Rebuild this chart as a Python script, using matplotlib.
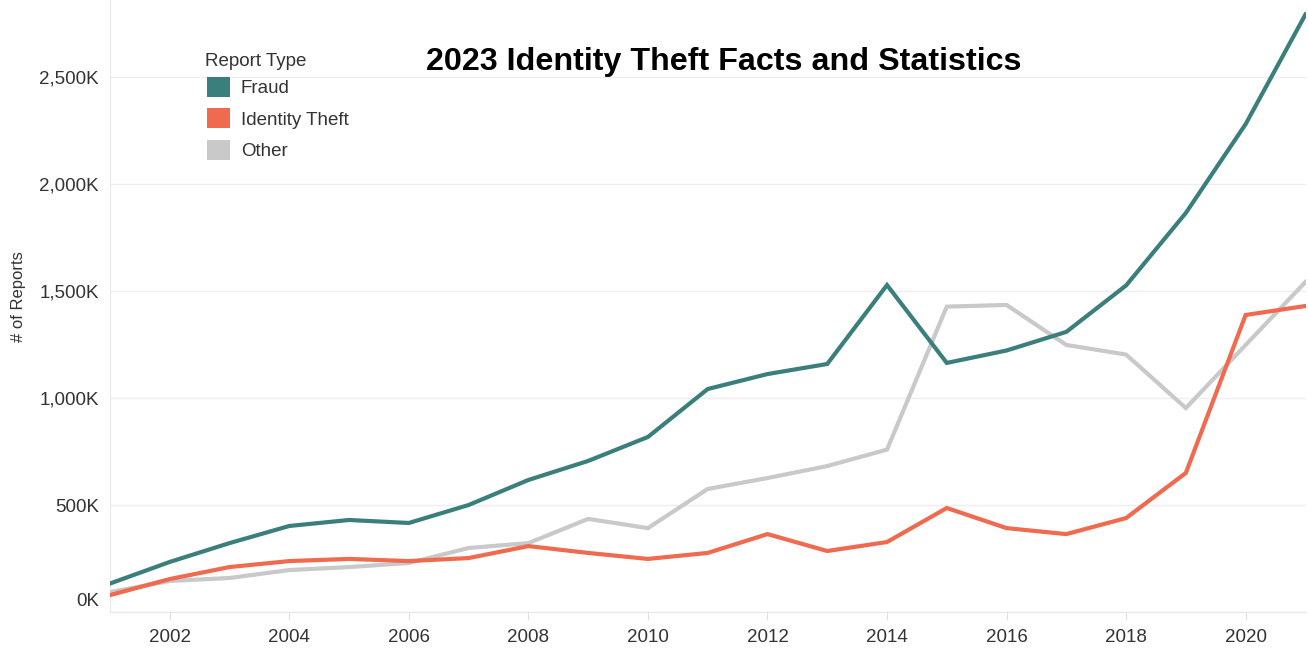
import matplotlib
matplotlib.use("Agg")
import matplotlib.pyplot as plt
import matplotlib.transforms as mtransforms
from matplotlib.patches import Patch
from matplotlib.ticker import FuncFormatter

# data (thousands of reports)
years = list(range(2001, 2022))
fraud = [133, 234, 322, 402, 430, 416, 500, 617, 706, 818, 1042, 1112, 1159,
         1528, 1164, 1222, 1309, 1526, 1865, 2280, 2792]
identity_theft = [79, 154, 210, 238, 248, 238, 252, 308, 276, 248, 276, 364, 285,
                  327, 486, 392, 364, 439, 650, 1388, 1430]
other = [93, 145, 159, 196, 210, 229, 299, 322, 435, 392, 575, 626, 682,
         759, 1427, 1435, 1248, 1203, 953, 1248, 1542]
series_names = ["Fraud", "Identity Theft", "Other"]
x_ticks = [2002, 2004, 2006, 2008, 2010, 2012, 2014, 2016, 2018, 2020]
y_ticks = [0, 500, 1000, 1500, 2000, 2500]

colors = ["#3b7f7c", "#ef6a4f", "#c9c9c9"]

plt.rcParams['font.family'] = ['Liberation Sans', 'DejaVu Sans']

fig = plt.figure(figsize=(13.08, 6.48), dpi=100)
ax = fig.add_axes([110 / 1308, 36 / 648, 1196 / 1308, 612 / 648])

# draw grey first so the coloured lines sit on top
ax.plot(years, other, color=colors[2], lw=3.0, solid_joinstyle='miter', zorder=3)
ax.plot(years, identity_theft, color=colors[1], lw=3.0, solid_joinstyle='miter', zorder=4)
ax.plot(years, fraud, color=colors[0], lw=3.0, solid_joinstyle='miter', zorder=5)

ax.set_xlim(2001, 2021.01)
ax.set_ylim(0, 2860)
ax.set_xticks(x_ticks)
ax.set_yticks(y_ticks)
ax.yaxis.set_major_formatter(FuncFormatter(lambda v, p: f"{int(v):,}K"))

ax.grid(axis='y', color='#eeeeee', lw=1)
ax.set_axisbelow(True)
for s in ['top', 'right']:
    ax.spines[s].set_visible(False)
ax.spines['left'].set_color('#e8e8e8')
ax.spines['bottom'].set_color('#e8e8e8')
ax.tick_params(axis='x', colors='#e0e0e0', labelcolor='#333333', labelsize=13.5,
               length=6, pad=6)
ax.tick_params(axis='y', length=0, labelcolor='#333333', labelsize=13.5, pad=8)

# the 0K label sits a bit above its gridline in the original
zero_lbl = ax.yaxis.get_major_ticks()[0].label1
zero_lbl.set_transform(zero_lbl.get_transform() +
                       mtransforms.ScaledTranslation(0, 9 / 72, fig.dpi_scale_trans))

fig.text(19 / 1308, 1 - 297 / 648, "# of Reports", rotation=90, ha='center', va='center',
         fontsize=12, color='#333333')

fig.text(724 / 1308, 1 - 62 / 648, "2023 Identity Theft Facts and Statistics", ha='center',
         va='center', fontsize=23.2, fontweight='bold', color='black')

# legend (title drawn separately to match its spacing)
fig.text(205 / 1308, 1 - 61 / 648, "Report Type", ha='left', va='center',
         fontsize=13.5, color='#333333')
handles = [Patch(facecolor=c, edgecolor='none') for c in colors]
leg = ax.legend(handles, series_names, loc='upper left',
                bbox_to_anchor=(207 / 1308, 1 - 77 / 648), bbox_transform=fig.transFigure,
                frameon=False, fontsize=13.5,
                handlelength=1.25, handleheight=1.25, handletextpad=0.55,
                labelspacing=0.6, borderaxespad=0, borderpad=0)
for t in leg.get_texts():
    t.set_color('#333333')

fig.savefig("out.png", dpi=100)
